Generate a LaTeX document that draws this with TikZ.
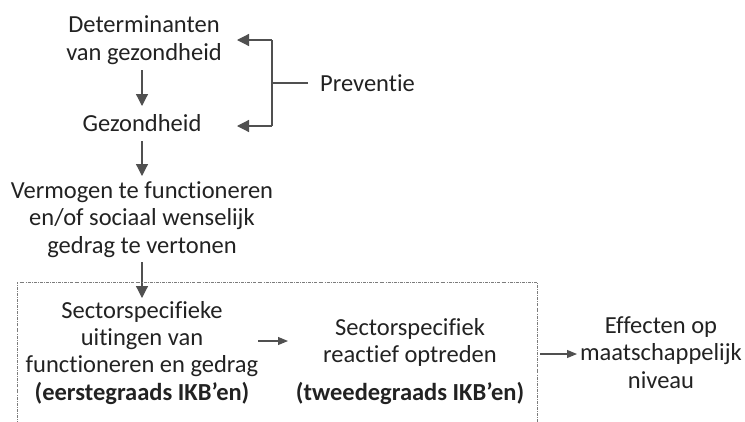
\documentclass[tikz,border=0pt]{standalone}
\usepackage{fontspec}
\setmainfont[Ligatures=NoCommon]{Carlito}
\usetikzlibrary{arrows.meta}
\definecolor{txt}{HTML}{222222}
\definecolor{ln}{HTML}{505050}
\begin{document}
\begin{tikzpicture}[x=1pt,y=-1pt,
  lbl/.style={align=center,inner sep=0pt,text=txt,font=\fontsize{24.5}{27.3}\selectfont},
  arr/.style={draw=ln,line width=1.2pt,-{Triangle[length=12pt 0,width=12pt 0]}},
  harr/.style={draw=ln,line width=1.1pt,-{Triangle[length=10pt 0,width=8pt 0]}},
  plain/.style={draw=ln,line width=1.2pt},
  boxline/.style={draw=ln!75,line width=0.7pt,dash pattern=on 3pt off 1.2pt on 0.7pt off 1.2pt}]
\clip (0,0) rectangle (745,421);
\node[lbl,anchor=base] (det) at (144,60) {Determinanten\\van gezondheid};
\node[lbl,anchor=base] (gez) at (142,131) {Gezondheid};
\node[lbl,anchor=base] (verm) at (142,253) {Vermogen te functioneren\\en/of sociaal wenselijk\\gedrag te vertonen};
\node[lbl,anchor=base] (sec1) at (142,400) {Sectorspecifieke\\uitingen van\\functioneren en gedrag\\\textbf{(eerstegraads IKB’en)}};
\node[lbl,anchor=base] (sec2) at (410,400) {Sectorspecifiek\\reactief optreden\\[10pt]\textbf{(tweedegraads IKB’en)}};
\node[lbl,anchor=base] (eff) at (661,388) {Effecten op\\maatschappelijk\\niveau};
\node[lbl,anchor=west] (prev) at (320,83) {Preventie};
% bracket
\coordinate (bt) at (272,40);
\coordinate (bb) at (272,126);
\coordinate (bm) at (272,83);
\draw[plain] (bt) -- (bb);
\draw[plain] (prev.west) ++(-12,0) -- (bm);
\draw[arr] (bt) -- (237,40);
\draw[arr] (bb) -- (237,126);
% vertical arrows
\draw[arr] (142,70) -- (142,106);
\draw[arr] (142,141) -- (142,176);
\draw[arr] (142,262) -- (142,298);
% box
\draw[boxline] (17,430) -- (17,282) -- (537,282) -- (537,430);
% horizontal arrows
\draw[harr] (258,341) -- (288,341);
\draw[harr] (540,354) -- (577,354);
\end{tikzpicture}
\end{document}
